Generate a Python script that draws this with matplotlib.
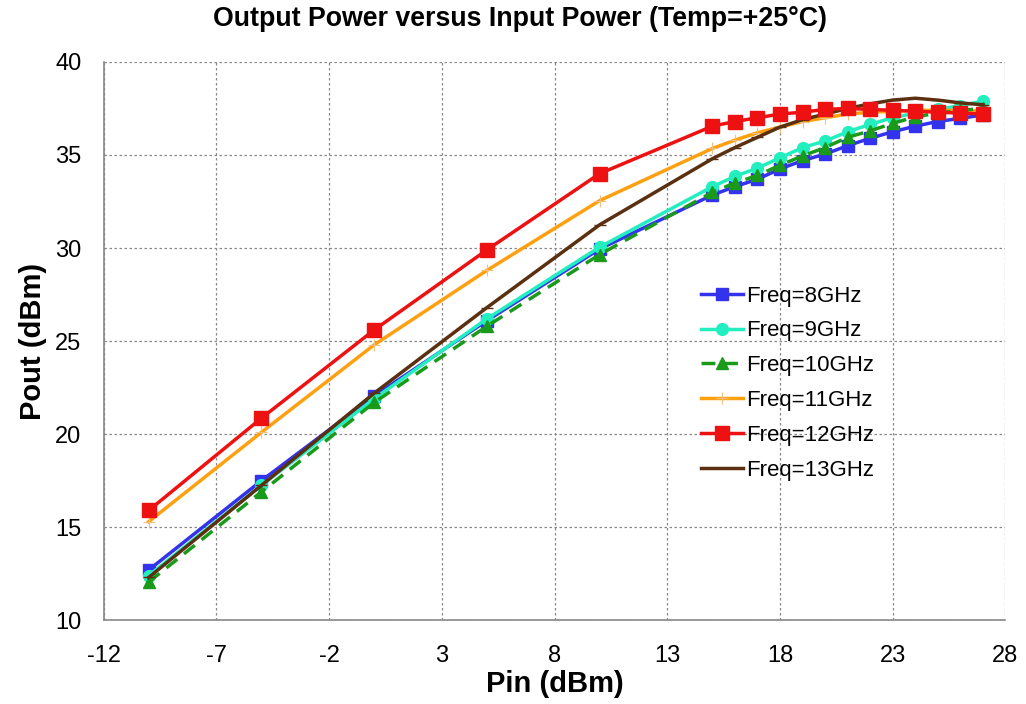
import matplotlib.pyplot as plt
import numpy as np

plt.rcParams['font.family'] = ['Liberation Sans', 'DejaVu Sans']
plt.rcParams['axes.unicode_minus'] = False

# input power sweep (dBm)
pin = [-10, -5, 0, 5, 10, 15, 16, 17, 18, 19, 20, 21, 22, 23, 24, 25, 26, 27]

# output power (dBm) per frequency
pout_8 = [12.7, 17.5, 22.05, 26.1, 29.95, 32.85, 33.3, 33.7, 34.25, 34.7, 35.05,
          35.5, 35.9, 36.25, 36.55, 36.8, 36.97, 37.15]
pout_9 = [12.4, 17.25, 21.9, 26.2, 30.05, 33.3, 33.85, 34.3, 34.85, 35.4, 35.75,
          36.25, 36.65, 37.0, 37.25, 37.45, 37.65, 37.9]
pout_10 = [12.05, 16.9, 21.7, 25.8, 29.65, 33.0, 33.5, 33.9, 34.45, 34.95, 35.4,
           35.95, 36.3, 36.7, 37.05, 37.25, 37.4, 37.5]
pout_11 = [15.3, 20.1, 24.8, 28.8, 32.55, 35.35, 35.8, 36.2, 36.5, 36.8, 37.0,
           37.2, 37.3, 37.35, 37.4, 37.4, 37.4, 37.35]
pout_12 = [15.9, 20.86, 25.6, 29.9, 34.0, 36.55, 36.8, 37.0, 37.2, 37.3, 37.45,
           37.5, 37.45, 37.4, 37.35, 37.3, 37.25, 37.2]
pout_13 = [12.3, 17.25, 22.2, 26.8, 31.25, 34.8, 35.4, 35.95, 36.5, 36.9, 37.2,
           37.5, 37.75, 37.95, 38.05, 37.95, 37.8, 37.7]

fig, ax = plt.subplots(figsize=(10.26, 7.04), dpi=100)
fig.subplots_adjust(left=0.101, right=0.98, top=0.912, bottom=0.119)

ax.plot(pin, pout_8, color='#3333ee', lw=2.5, marker='s', ms=8.5, label='Freq=8GHz', zorder=3)
ax.plot(pin, pout_9, color='#22eec0', lw=2.5, marker='o', ms=8.5, label='Freq=9GHz', zorder=3)
ax.plot(pin, pout_10, color='#1a9a1a', lw=2.5, ls=(0, (4, 2.5)), marker='^', ms=9,
        label='Freq=10GHz', zorder=4)
ax.plot(pin, pout_11, color='#ffa010', lw=2.5, marker='+', ms=8, mew=0.8, mec='#f0c080',
        label='Freq=11GHz', zorder=3)
ax.plot(pin, pout_12, color='#ee1111', lw=2.5, marker='s', ms=10.5, label='Freq=12GHz', zorder=5)
ax.plot(pin, pout_13, color='#5a3010', lw=2.5, marker='_', ms=8, mew=1, label='Freq=13GHz', zorder=4)

ax.set_xlim(-12, 28)
ax.set_ylim(10, 40)
ax.set_xticks(np.arange(-12, 29, 5))
ax.set_yticks(np.arange(10, 41, 5))
ax.tick_params(axis='x', labelsize=17, length=0, pad=18)
ax.tick_params(axis='y', labelsize=17, length=0, pad=16)
ax.grid(True, color='#888888', ls=(0, (2, 2)), lw=0.9)

for side in ['top', 'right']:
    ax.spines[side].set_visible(False)
for side in ['left', 'bottom']:
    ax.spines[side].set_color('#888888')
    ax.spines[side].set_linewidth(1.2)

ax.set_title('Output Power versus Input Power (Temp=+25°C)', fontsize=19.3,
             fontweight='bold', pad=26, x=0.462)
ax.set_xlabel('Pin (dBm)', fontsize=21, fontweight='bold', labelpad=2)
ax.set_ylabel('Pout (dBm)', fontsize=21, fontweight='bold', labelpad=6)

ax.legend(loc='upper left', bbox_to_anchor=(0.64, 0.635), frameon=False, fontsize=16,
          handlelength=1.9, handletextpad=0.15, labelspacing=0.62)

fig.savefig('out.png')
